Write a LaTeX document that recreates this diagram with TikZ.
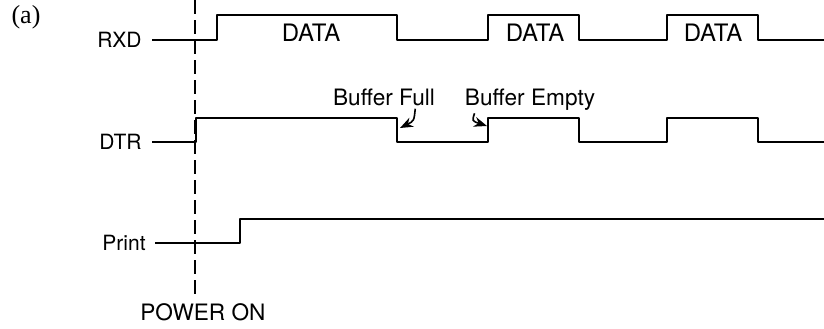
\documentclass[tikz,border=0pt]{standalone}
\usepackage{fontspec}
\setmainfont{Liberation Serif}
\setsansfont{TeX Gyre Heros}
\usetikzlibrary{arrows.meta, positioning}

\tikzset{
	wave/.style={line width=1.25pt, line join=round},
	siglabel/.style={font=\sffamily\fontsize{10.5}{12}\selectfont, anchor=east, inner sep=0pt},
	datalabel/.style={font=\sffamily\fontsize{12}{14}\selectfont, anchor=base, inner sep=0pt},
	notelabel/.style={font=\sffamily\fontsize{11.3}{13}\selectfont, anchor=base, inner sep=0pt},
	bufarrow/.style={line width=0.8pt, -{Stealth[length=6.5pt,width=5pt]}}
}

\begin{document}
\begin{tikzpicture}[x=0.5pt,y=-0.5pt]
	\useasboundingbox (0,0) rectangle (824,328);
	\node[font=\fontsize{13}{15}\selectfont, inner sep=0pt] (tag) at (26,17) {(a)};
	% signal names
	\node[siglabel] (rxd) at (142,40) {RXD};
	\node[siglabel] (dtr) at (142,142) {DTR};
	\node[siglabel] (prt) at (146,243) {Print};
	% power on marker
	\draw[line width=0.7pt, dash pattern=on 7pt off 3pt] (195,0) -- (195,297);
	\node[notelabel, anchor=base west] (pwr) at (140,320) {POWER ON};
	% waveforms
	\draw[wave] (152,40) -- (217,40) -- (217,15) -- (397,15) -- (397,40) -- (488,40) -- (488,15)
		-- (579,15) -- (579,40) -- (667,40) -- (667,15) -- (758,15) -- (758,40) -- (824,40);
	\draw[wave] (152,142) -- (196,142) -- (196,118) -- (397,118) -- (397,142) -- (488,142) -- (488,118)
		-- (579,118) -- (579,142) -- (667,142) -- (667,118) -- (758,118) -- (758,142) -- (824,142);
	\draw[wave] (155,243) -- (240,243) -- (240,219) -- (824,219);
	\foreach \x/\n in {311/1,535/2,713/3}{\node[datalabel] (data\n) at (\x,41) {DATA};}
	% buffer notes
	\node[notelabel] (bfull) at (384,105) {Buffer Full};
	\node[notelabel] (bempty) at (530,105) {Buffer Empty};
	\coordinate (fullend) at (400,128);
	\coordinate (emptyend) at (487,126);
	\draw[bufarrow] (bfull.south east) ++(-20,3) .. controls (414,121) .. (fullend);
	\draw[bufarrow] (bempty.south west) ++(10,3) .. controls (472,121) .. (emptyend);
\end{tikzpicture}
\end{document}
